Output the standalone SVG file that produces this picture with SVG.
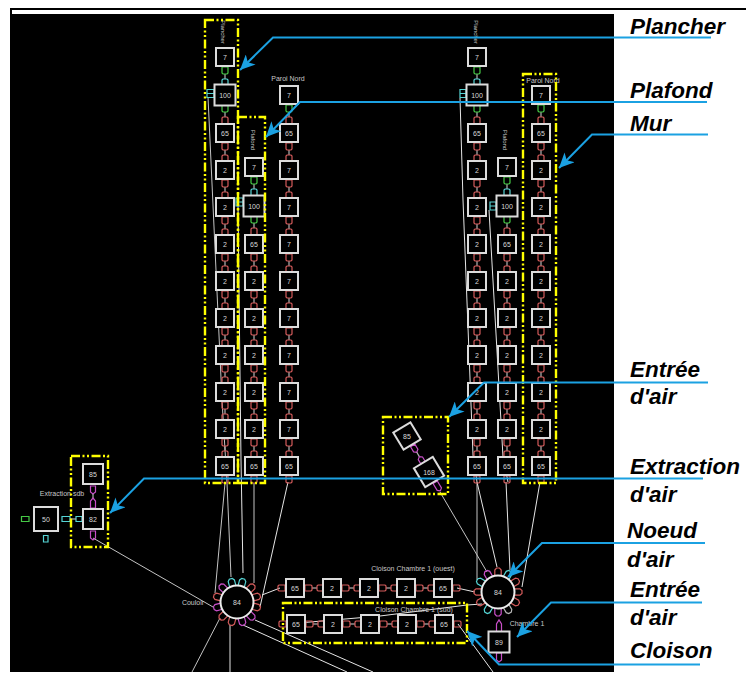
<svg xmlns="http://www.w3.org/2000/svg" width="746" height="677" viewBox="0 0 746 677">
<style>
.n text{font:7px "Liberation Sans",Arial,sans-serif;fill:#d8d8d8;text-anchor:middle}
.lb{font:7px "Liberation Sans",Arial,sans-serif;fill:#c8c8c8;text-anchor:middle}
.cap{font:italic bold 22.5px "Liberation Sans",Arial,sans-serif;fill:#000}
.sq{fill:#000;stroke:#dcdcdc;stroke-width:2}
.circ{fill:#000;stroke:#ececec;stroke-width:2}
.r{fill:none;stroke:#d25a5a;stroke-width:1.2}
.g{fill:none;stroke:#45c845;stroke-width:1.2}
.c{fill:none;stroke:#55d5d5;stroke-width:1.2}
.m{fill:none;stroke:#c84fc8;stroke-width:1.2}
.w{fill:none;stroke:#b5b5b5;stroke-width:1.2}
.box{fill:none;stroke:#ff0;stroke-width:2.4;stroke-dasharray:9 2.500 2 2.500 2 2.500}
.call{fill:none;stroke:#1ba1e2;stroke-width:2;marker-end:url(#ah)}
.wire{fill:none;stroke:#c4c4c4;stroke-width:1}
.wh{fill:none;stroke:#e6e6e6;stroke-width:1}
</style>
<defs>
<marker id="ah" markerUnits="userSpaceOnUse" markerWidth="16" markerHeight="14" refX="15" refY="7" orient="auto"><path d="M0 0L15 7L0 14L4 7Z" fill="#1ba1e2"/></marker>
<rect id="s" class="sq" x="-9" y="-9" width="18" height="18"/>
<rect id="sb" class="sq" x="-10.500" y="-10.500" width="21" height="21"/>
<path id="pd" d="M-3 10H3V16L2 17H-2L-3 16Z"/>
<path id="pu" d="M-3 28V23L-2 22H2L3 23V28"/>
<path id="co" d="M-3.200 -16V-22L-1.500 -24H1.500L3.200 -22V-16"/>
<g id="lr"><path class="w" d="M0 17V22"/><use href="#pd" class="r"/><use href="#pu" class="r"/></g>
<g id="lgc"><path class="w" d="M0 17V22"/><use href="#pd" class="g"/><use href="#pu" class="c"/></g>
<g id="lgr"><path class="w" d="M0 17V22"/><use href="#pd" class="g"/><use href="#pu" class="r"/></g>
<g id="col"><use href="#lr" y="0"/><use href="#lr" y="37"/><use href="#lr" y="74"/><use href="#lr" y="111"/><use href="#lr" y="148"/><use href="#lr" y="185"/><use href="#lr" y="222"/><use href="#lr" y="259"/><use href="#lr" y="296"/><use href="#pd" class="r" y="333"/></g>
<g id="col6"><use href="#lr" y="0"/><use href="#lr" y="37"/><use href="#lr" y="74"/><use href="#lr" y="111"/><use href="#lr" y="148"/><use href="#lr" y="185"/><use href="#pd" class="r" y="222"/></g>
<g id="row"><use href="#pd" class="r" transform="rotate(90)"/><use href="#lr" transform="rotate(-90)"/><use href="#lr" transform="translate(37 0) rotate(-90)"/><use href="#lr" transform="translate(74 0) rotate(-90)"/><use href="#lr" transform="translate(111 0) rotate(-90)"/><use href="#pd" class="r" transform="translate(148 0) rotate(-90)"/></g>
</defs>
<rect width="746" height="677" fill="#fff"/>
<path d="M10 9H746" stroke="#000" stroke-width="2"/>
<rect x="10" y="14" width="604" height="658" fill="#000"/>
<rect x="10" y="9" width="2" height="6" fill="#000"/>

<g id="connectors">
<path class="wire" d="M208 97L222 400L227 483L231 577"/>
<path class="wire" d="M225 483L215 593"/>
<path class="wh" d="M238 205L241 460L243 573"/>
<path class="wire" d="M254 483V583"/>
<path class="wh" d="M288 482L260 607"/>
<path class="wire" d="M93 538L213 607"/>
<path class="wh" d="M262 595L280 588"/>
<path class="wire" d="M220 618L192 672"/>
<path class="wh" d="M230 625V672"/>
<path class="wh" d="M255 620L373 672"/>
<path class="wh" d="M243 625L347 672"/>
<path class="wh" d="M287 624L380 616L467 605L482 604"/>
<path class="wh" d="M457 588L475 592"/>
<path class="wh" d="M458 624L493 672"/>
<path class="wire" d="M477 482V580"/>
<path class="wh" d="M477 482L497 567"/>
<path class="wh" d="M506 482L510 570"/>
<path class="wh" d="M540 482L522 587"/>
<path class="wire" d="M440 492L487 572"/>
<path class="wh" d="M460 98L463 200L473 455L477 482"/>
<path class="wh" d="M489 210L503 457L508 482"/>
<use href="#lgc" x="225" y="57"/><use href="#lgr" x="225" y="95"/><use href="#col" x="225" y="133"/>
<use href="#lgc" x="254" y="167"/><use href="#lgr" x="254" y="206"/><use href="#col6" x="254" y="244"/>
<use href="#lgr" x="289" y="95"/><use href="#col" x="289" y="133"/>
<use href="#lgc" x="477" y="57"/><use href="#lgr" x="477" y="95"/><use href="#col" x="477" y="133"/>
<use href="#lgc" x="507" y="167"/><use href="#lgr" x="507" y="206"/><use href="#col6" x="507" y="244"/>
<use href="#lgr" x="541" y="95"/><use href="#col" x="541" y="133"/>
<use href="#row" x="295" y="588"/><use href="#row" x="296" y="624"/>
<path class="c" d="M207 89.500H214V93.500H207ZM207 93.500H214V97.500H207Z"/>
<path class="c" d="M236 198H243V202H236ZM236 202H243V206H236Z"/>
<path class="c" d="M460 89.500H466V93.500H460ZM460 93.500H466V97.500H460Z"/>
<path class="c" d="M490 202H496V206H490ZM490 206H496V210H490Z"/>
<path class="m" d="M90.500 486H95.500V492L93 494L90.500 492Z"/>
<path class="w" d="M93 494V498"/>
<path class="m" d="M90.500 508V501L93 498L95.500 501V508Z"/>
<path class="m" d="M90.500 531H95.500V538L93 540L90.500 538Z"/>
<path class="c" d="M62 516.500H70V521.500H62ZM76 516.500H82V521.500H76Z"/>
<path class="w" d="M70 519H76"/>
<path class="g" d="M21.500 516.500H29V521.500H21.500Z"/>
<path class="c" d="M43.500 535.500H48V542H43.500Z"/>
<g transform="translate(407 436) rotate(-31)"><path class="m" d="M-2.500 11H2.500V17L0 19L-2.500 17Z"/><path class="w" d="M0 19V24"/><path class="m" d="M-2.500 31V26L0 24L2.500 26V31Z"/></g>
<g transform="translate(429 472) rotate(-31)"><path class="m" d="M-2.500 12H2.500V20L0 22L-2.500 20Z"/></g>
<path class="m" d="M496.500 632V624L499 620L501.500 624V632Z"/>
<path class="m" d="M496.500 653H501.500V660L499 662L496.500 660Z"/>
</g>

<g id="node-a" class="n">
<g id="a1" transform="translate(225 57)"><use href="#s"/><text y="2.500">7</text></g>
<g id="a2" transform="translate(225 95)"><use href="#sb"/><text y="2.500">100</text></g>
<g id="a3" transform="translate(225 133)"><use href="#s"/><text y="2.500">65</text></g>
<g id="a4" transform="translate(225 170)"><use href="#s"/><text y="2.500">2</text></g>
<g id="a5" transform="translate(225 207)"><use href="#s"/><text y="2.500">2</text></g>
<g id="a6" transform="translate(225 244)"><use href="#s"/><text y="2.500">2</text></g>
<g id="a7" transform="translate(225 281)"><use href="#s"/><text y="2.500">2</text></g>
<g id="a8" transform="translate(225 318)"><use href="#s"/><text y="2.500">2</text></g>
<g id="a9" transform="translate(225 355)"><use href="#s"/><text y="2.500">2</text></g>
<g id="a10" transform="translate(225 392)"><use href="#s"/><text y="2.500">2</text></g>
<g id="a11" transform="translate(225 429)"><use href="#s"/><text y="2.500">2</text></g>
<g id="a12" transform="translate(225 466)"><use href="#s"/><text y="2.500">65</text></g>
</g>
<g id="node-b" class="n">
<g id="b1" transform="translate(254 167)"><use href="#s"/><text y="2.500">7</text></g>
<g id="b2" transform="translate(254 206)"><use href="#sb"/><text y="2.500">100</text></g>
<g id="b3" transform="translate(254 244)"><use href="#s"/><text y="2.500">65</text></g>
<g id="b4" transform="translate(254 281)"><use href="#s"/><text y="2.500">2</text></g>
<g id="b5" transform="translate(254 318)"><use href="#s"/><text y="2.500">2</text></g>
<g id="b6" transform="translate(254 355)"><use href="#s"/><text y="2.500">2</text></g>
<g id="b7" transform="translate(254 392)"><use href="#s"/><text y="2.500">2</text></g>
<g id="b8" transform="translate(254 429)"><use href="#s"/><text y="2.500">2</text></g>
<g id="b9" transform="translate(254 466)"><use href="#s"/><text y="2.500">65</text></g>
</g>
<g id="node-c" class="n">
<g id="c1" transform="translate(289 95)"><use href="#s"/><text y="2.500">7</text></g>
<g id="c2" transform="translate(289 133)"><use href="#s"/><text y="2.500">65</text></g>
<g id="c3" transform="translate(289 170)"><use href="#s"/><text y="2.500">7</text></g>
<g id="c4" transform="translate(289 207)"><use href="#s"/><text y="2.500">7</text></g>
<g id="c5" transform="translate(289 244)"><use href="#s"/><text y="2.500">7</text></g>
<g id="c6" transform="translate(289 281)"><use href="#s"/><text y="2.500">7</text></g>
<g id="c7" transform="translate(289 318)"><use href="#s"/><text y="2.500">7</text></g>
<g id="c8" transform="translate(289 355)"><use href="#s"/><text y="2.500">7</text></g>
<g id="c9" transform="translate(289 392)"><use href="#s"/><text y="2.500">7</text></g>
<g id="c10" transform="translate(289 429)"><use href="#s"/><text y="2.500">7</text></g>
<g id="c11" transform="translate(289 466)"><use href="#s"/><text y="2.500">65</text></g>
</g>
<g id="node-d" class="n">
<g id="d1" transform="translate(477 57)"><use href="#s"/><text y="2.500">7</text></g>
<g id="d2" transform="translate(477 95)"><use href="#sb"/><text y="2.500">100</text></g>
<g id="d3" transform="translate(477 133)"><use href="#s"/><text y="2.500">65</text></g>
<g id="d4" transform="translate(477 170)"><use href="#s"/><text y="2.500">2</text></g>
<g id="d5" transform="translate(477 207)"><use href="#s"/><text y="2.500">2</text></g>
<g id="d6" transform="translate(477 244)"><use href="#s"/><text y="2.500">2</text></g>
<g id="d7" transform="translate(477 281)"><use href="#s"/><text y="2.500">2</text></g>
<g id="d8" transform="translate(477 318)"><use href="#s"/><text y="2.500">2</text></g>
<g id="d9" transform="translate(477 355)"><use href="#s"/><text y="2.500">2</text></g>
<g id="d10" transform="translate(477 392)"><use href="#s"/><text y="2.500">2</text></g>
<g id="d11" transform="translate(477 429)"><use href="#s"/><text y="2.500">2</text></g>
<g id="d12" transform="translate(477 466)"><use href="#s"/><text y="2.500">65</text></g>
</g>
<g id="node-e" class="n">
<g id="e1" transform="translate(507 167)"><use href="#s"/><text y="2.500">7</text></g>
<g id="e2" transform="translate(507 206)"><use href="#sb"/><text y="2.500">100</text></g>
<g id="e3" transform="translate(507 244)"><use href="#s"/><text y="2.500">65</text></g>
<g id="e4" transform="translate(507 281)"><use href="#s"/><text y="2.500">2</text></g>
<g id="e5" transform="translate(507 318)"><use href="#s"/><text y="2.500">2</text></g>
<g id="e6" transform="translate(507 355)"><use href="#s"/><text y="2.500">2</text></g>
<g id="e7" transform="translate(507 392)"><use href="#s"/><text y="2.500">2</text></g>
<g id="e8" transform="translate(507 429)"><use href="#s"/><text y="2.500">2</text></g>
<g id="e9" transform="translate(507 466)"><use href="#s"/><text y="2.500">65</text></g>
</g>
<g id="node-f" class="n">
<g id="f1" transform="translate(541 95)"><use href="#s"/><text y="2.500">7</text></g>
<g id="f2" transform="translate(541 133)"><use href="#s"/><text y="2.500">65</text></g>
<g id="f3" transform="translate(541 170)"><use href="#s"/><text y="2.500">2</text></g>
<g id="f4" transform="translate(541 207)"><use href="#s"/><text y="2.500">2</text></g>
<g id="f5" transform="translate(541 244)"><use href="#s"/><text y="2.500">2</text></g>
<g id="f6" transform="translate(541 281)"><use href="#s"/><text y="2.500">2</text></g>
<g id="f7" transform="translate(541 318)"><use href="#s"/><text y="2.500">2</text></g>
<g id="f8" transform="translate(541 355)"><use href="#s"/><text y="2.500">2</text></g>
<g id="f9" transform="translate(541 392)"><use href="#s"/><text y="2.500">2</text></g>
<g id="f10" transform="translate(541 429)"><use href="#s"/><text y="2.500">2</text></g>
<g id="f11" transform="translate(541 466)"><use href="#s"/><text y="2.500">65</text></g>
</g>
<g id="node-row1" class="n">
<g id="r1" transform="translate(295 588)"><use href="#s"/><text y="2.500">65</text></g>
<g id="r2" transform="translate(332 588)"><use href="#s"/><text y="2.500">2</text></g>
<g id="r3" transform="translate(369 588)"><use href="#s"/><text y="2.500">2</text></g>
<g id="r4" transform="translate(406 588)"><use href="#s"/><text y="2.500">2</text></g>
<g id="r5" transform="translate(443 588)"><use href="#s"/><text y="2.500">65</text></g>
</g>
<g id="node-row2" class="n">
<g id="s1" transform="translate(296 624)"><use href="#s"/><text y="2.500">65</text></g>
<g id="s2" transform="translate(333 624)"><use href="#s"/><text y="2.500">2</text></g>
<g id="s3" transform="translate(370 624)"><use href="#s"/><text y="2.500">2</text></g>
<g id="s4" transform="translate(407 624)"><use href="#s"/><text y="2.500">2</text></g>
<g id="s5" transform="translate(444 624)"><use href="#s"/><text y="2.500">65</text></g>
</g>
<g id="node-extraction" class="n">
<g id="x1" transform="translate(46 519)"><rect class="sq" x="-12" y="-12" width="24" height="24"/><text y="2.500">50</text></g>
<g id="x2" transform="translate(93 519)"><rect class="sq" x="-10" y="-10" width="20" height="20"/><text y="2.500">82</text></g>
<g id="x3" transform="translate(93 474)"><rect class="sq" x="-10" y="-10" width="20" height="20"/><text y="2.500">85</text></g>
</g>
<g id="node-entree" class="n">
<g id="t1" transform="translate(407 436) rotate(-31)"><rect class="sq" x="-10" y="-10" width="20" height="20"/><text y="2.500" transform="rotate(31)">85</text></g>
<g id="t2" transform="translate(429 472) rotate(-31)"><rect class="sq" x="-11" y="-11" width="22" height="22"/><text y="2.500" transform="rotate(31)">168</text></g>
<g id="t3" transform="translate(499 642)"><rect class="sq" x="-10.500" y="-10.500" width="21" height="21"/><text y="2.500">89</text></g>
</g>
<g id="node-air1" class="n" transform="translate(237 602)">
<g class="r"><use href="#co" transform="rotate(45)"/><use href="#co" transform="rotate(75)"/><use href="#co" transform="rotate(105)"/><use href="#co" transform="rotate(195)"/><use href="#co" transform="rotate(225)"/><use href="#co" transform="rotate(285)"/></g>
<g class="c"><use href="#co" transform="rotate(-15)"/><use href="#co" transform="rotate(15)"/></g>
<g class="m"><use href="#co" transform="rotate(135)"/><use href="#co" transform="rotate(165)"/><use href="#co" transform="rotate(255)"/><use href="#co" transform="rotate(315)"/></g>
<circle class="circ" r="16.500"/><text y="2.500">84</text>
</g>
<g id="node-air2" class="n" transform="translate(498 592)">
<g class="r"><use href="#co"/><use href="#co" transform="rotate(60)"/><use href="#co" transform="rotate(90)"/><use href="#co" transform="rotate(120)"/><use href="#co" transform="rotate(240)"/><use href="#co" transform="rotate(270)"/></g>
<g class="c"><use href="#co" transform="rotate(30)"/><use href="#co" transform="rotate(210)"/><use href="#co" transform="rotate(300)"/></g>
<g class="m"><use href="#co" transform="rotate(180)"/><use href="#co" transform="rotate(330)"/></g>
<g class="w"><use href="#co" transform="rotate(150)"/></g>
<circle class="circ" r="16.500"/><text y="2.500">84</text>
</g>

<g id="small-labels">
<text class="lb" transform="translate(221 32) rotate(90)" style="font-size:6px">Plancher</text>
<text class="lb" transform="translate(474 32) rotate(90)" style="font-size:6px">Plancher</text>
<text class="lb" transform="translate(251 140) rotate(90)" style="font-size:6px">Plafond</text>
<text class="lb" transform="translate(503 140) rotate(90)" style="font-size:6px">Plafond</text>
<text class="lb" x="288" y="81">Paroi Nord</text>
<text class="lb" x="543" y="83">Paroi Nord</text>
<text class="lb" x="62" y="496">Extraction sdb</text>
<text class="lb" x="193" y="605">Couloir</text>
<text class="lb" x="413" y="571">Cloison Chambre 1 (ouest)</text>
<text class="lb" x="414" y="612">Cloison Chambre 1 (sud)</text>
<text class="lb" x="527" y="626">Chambre 1</text>
</g>

<g id="boxes">
<rect class="box" x="205" y="20" width="33" height="463"/>
<rect class="box" x="238" y="117" width="27" height="366"/>
<rect class="box" x="523" y="74" width="33" height="409"/>
<rect class="box" x="71" y="456" width="37" height="91"/>
<rect class="box" x="383" y="417" width="65" height="77"/>
<rect class="box" x="283" y="603" width="184" height="40"/>
</g>

<g id="callouts">
<path class="call" d="M711 37.500H273L240 70"/>
<path class="call" d="M707 102H300L266 137"/>
<path class="call" d="M708 134.500H592L559 168"/>
<path class="call" d="M708 382.500H484L449 417"/>
<path class="call" d="M703 478.500H144L110 513"/>
<path class="call" d="M705 543H542L508 577"/>
<path class="call" d="M702 602.500H551L517 637"/>
<path class="call" d="M700 664.500H499L467 631"/>
</g>

<g id="captions">
<text class="cap" x="630" y="34">Plancher</text>
<text class="cap" x="630" y="98">Plafond</text>
<text class="cap" x="630" y="131">Mur</text>
<text class="cap" x="630" y="377">Entrée</text>
<text class="cap" x="630" y="404">d'air</text>
<text class="cap" x="630" y="474">Extraction</text>
<text class="cap" x="630" y="502">d'air</text>
<text class="cap" x="627" y="538">Noeud</text>
<text class="cap" x="627" y="567">d'air</text>
<text class="cap" x="630" y="597">Entrée</text>
<text class="cap" x="630" y="625">d'air</text>
<text class="cap" x="630" y="658">Cloison</text>
</g>
</svg>
